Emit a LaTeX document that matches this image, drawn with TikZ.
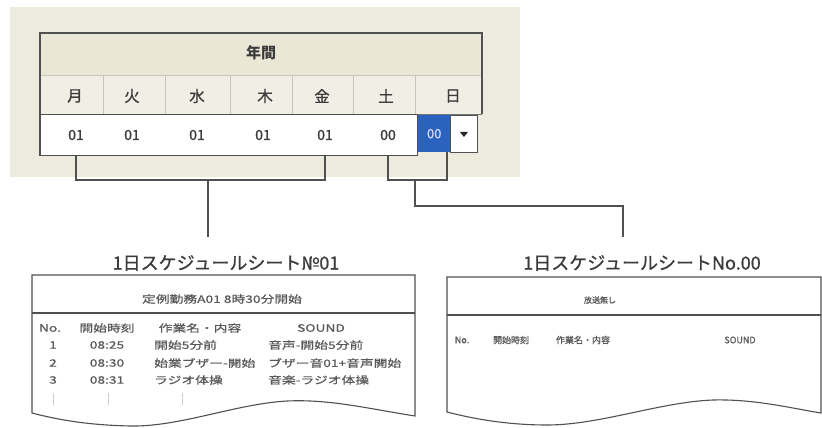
\documentclass[tikz,border=0pt]{standalone}
\usepackage{fontspec}
\usetikzlibrary{calc}
\newfontfamily\jp{Noto Sans CJK JP}
\newfontfamily\jpb[FakeBold=0.8]{Noto Sans CJK JP}
\newfontfamily\jpw[FakeStretch=1.35,FakeBold=0.8]{Noto Sans CJK JP}
\definecolor{bgbeige}{HTML}{EDEBDD}
\definecolor{hdrbeige}{HTML}{EAE7D6}
\definecolor{daybeige}{HTML}{F1EFE5}
\definecolor{linegray}{HTML}{505050}
\definecolor{divgray}{HTML}{C9C6B8}
\definecolor{txtgray}{HTML}{3C3C3C}
\definecolor{selblue}{HTML}{2C62BF}
\begin{document}
\begin{tikzpicture}[x=1pt,y=-1pt,
  frame/.style={draw=linegray,line width=1.1pt},
  conn/.style={draw=linegray,line width=1.2pt},
  daytxt/.style={font=\jpb\fontsize{15.5}{15.5}\selectfont,text=txtgray,inner sep=0},
  valtxt/.style={font=\jpb\fontsize{14}{14}\selectfont,text=txtgray,inner sep=0},
  ttl/.style={font=\jpb\fontsize{18}{18}\selectfont,text=txtgray,inner sep=1pt},
  stxt/.style={font=\jpw\fontsize{10.2}{10.2}\selectfont,text=txtgray!85,inner sep=0},
  rtxt/.style={font=\jpb\fontsize{9}{9}\selectfont,text=txtgray!85,inner sep=0},
  sheet/.style={draw=linegray,line width=1.1pt,fill=white},
  contmark/.style={draw=gray!40,line width=0.6pt}]
\useasboundingbox (0,0) rectangle (822,428);
\fill[white] (0,0) rectangle (822,428);
% panel background
\fill[bgbeige] (10,7) rectangle (520,177);
% header and day rows
\fill[hdrbeige] (40,33) rectangle (482,75);
\fill[daybeige] (40,75) rectangle (482,114);
\foreach \x in {103,165,230,292,353,415} \draw[divgray,line width=0.8pt] (\x,75) -- (\x,114);
\draw[divgray,line width=0.9pt] (40,75) -- (482,75);
\draw[linegray!80,line width=0.8pt] (40,114) -- (482,114);
\node[font=\jp\bfseries\fontsize{15}{15}\selectfont,text=txtgray,inner sep=0] (year) at (261,53) {年間};
\node[daytxt] (d1) at (75,96) {月};
\node[daytxt] (d2) at (132,96) {火};
\node[daytxt] (d3) at (197,96) {水};
\node[daytxt] (d4) at (265,96) {木};
\node[daytxt] (d5) at (322,96) {金};
\node[daytxt] (d6) at (386,96) {土};
\node[daytxt] (d7) at (453,96) {日};
% values row
\node[draw=linegray,line width=1.1pt,fill=white,minimum width=377pt,minimum height=41pt,inner sep=0,anchor=north west] (vrow) at (40,114) {};
\node[valtxt] (v1) at (76,135) {01};
\node[valtxt] (v2) at (132,135) {01};
\node[valtxt] (v3) at (197,135) {01};
\node[valtxt] (v4) at (263,135) {01};
\node[valtxt] (v5) at (325,135) {01};
\node[valtxt] (v6) at (388,135) {00};
\node[fill=selblue,minimum width=32pt,minimum height=37pt,inner sep=0,anchor=north west,
      font=\jpb\fontsize{13}{13}\selectfont,text=blue!15] (sel) at (418,115) {00};
\node[draw=linegray,line width=0.9pt,fill=white,minimum width=27pt,minimum height=37pt,inner sep=0,anchor=north west] (drop) at (450,115) {};
\fill[black!85] ($(drop.center)+(-4,-2)$) -- ($(drop.center)+(4,-2)$) -- ($(drop.center)+(0,3)$) -- cycle;
% outer frame
\draw[frame] (vrow.south west) -- (40,33) -- (482,33) -- (482,114);
% connectors
\coordinate (b1) at (v1 |- vrow.south);
\coordinate (b2) at (v5 |- vrow.south);
\coordinate (b3) at (v6 |- vrow.south);
\coordinate (b4) at (447,152);
\coordinate (j1) at (208,180);
\coordinate (j2) at (415,180);
% sheet titles
\node[ttl] (t1) at (226,263) {1日スケジュールシート№01};
\node[ttl] (t2) at (642,263) {1日スケジュールシートNo.00};
\coordinate (e1) at (208,237);
\coordinate (e2) at (623,237);
\draw[conn] (b1) -- (b1 |- j1) -- (b2 |- j1) -- (b2);
\draw[conn] (b3) -- (b3 |- j2) -- (b4 |- j2) -- (b4);
\draw[conn] (j1) -- (e1);
\draw[conn] (j2) -- (415,206) -- (e2 |- 0,206) -- (e2);
% left sheet
\draw[sheet] (32,413) -- (32,275) -- (415,275) -- (415,416)
   .. controls (370,409) and (330,399) .. (287,401)
   .. controls (235,404) and (180,427) .. (130,426)
   .. controls (85,425) and (55,419) .. (32,413) -- cycle;
\draw[linegray,line width=1.1pt] (32,313) -- (415,313);
\node[stxt] (s1) at (222,299) {定例勤務A01 8時30分開始};
\node[stxt] (h1) at (50,328) {No.};
\node[stxt] (h2) at (107,328) {開始時刻};
\node[stxt] (h3) at (200,328) {作業名・内容};
\node[stxt] (h4) at (321,328) {SOUND};
\foreach \y/\n/\t/\a/\b in {345/1/08:25/開始5分前/音声-開始5分前,
                            363/2/08:30/始業ブザー-開始/ブザー音01+音声開始,
                            380/3/08:31/ラジオ体操/音楽-ラジオ体操}{
  \node[stxt] at (53,\y) {\n};
  \node[stxt] at (107,\y) {\t};
  \node[stxt,anchor=west] at (154,\y) {\a};
  \node[stxt,anchor=west] at (268,\y) {\b};
}
\draw[contmark] (53,393) -- (53,405);
\draw[contmark] (108,393) -- (108,405);
\draw[contmark] (182,393) -- (182,405);
% right sheet
\draw[sheet] (447,412) -- (447,277) -- (821,277) -- (821,413)
   .. controls (790,408) and (755,399) .. (713,400)
   .. controls (660,402) and (600,425) .. (547,425)
   .. controls (505,425) and (470,418) .. (447,412) -- cycle;
\draw[linegray,line width=1.1pt] (447,315) -- (821,315);
\node[font=\jpb\fontsize{8}{8}\selectfont,text=txtgray!85,inner sep=0] (s2) at (600,300) {放送無し};
\node[rtxt] (r1) at (462,340) {No.};
\node[rtxt] (r2) at (511,340) {開始時刻};
\node[rtxt] (r3) at (583,340) {作業名・内容};
\node[rtxt] (r4) at (740,340) {SOUND};
\end{tikzpicture}
\end{document}
